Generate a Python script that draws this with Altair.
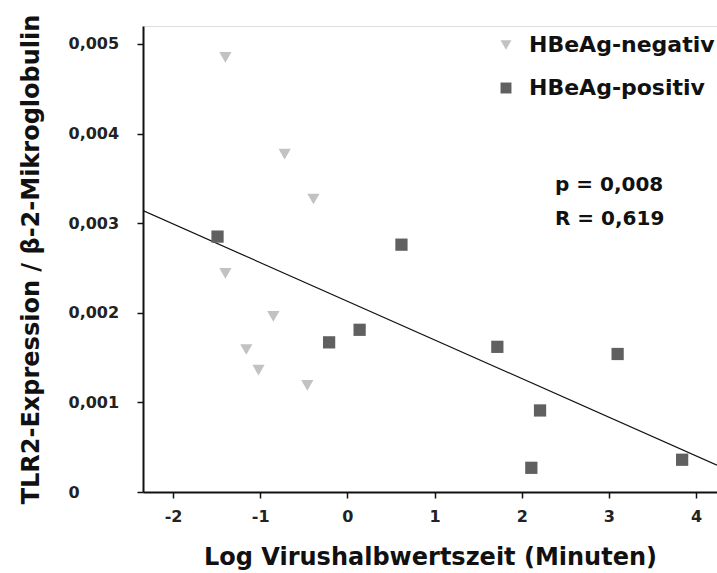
import altair as alt
import pandas as pd

# HBeAg-negative patients
neg_x = [-1.40, -0.72, -0.39, -1.40, -0.85, -1.16, -1.02, -0.46]
neg_y = [0.00485, 0.00377, 0.00327, 0.00244, 0.00196, 0.00159, 0.00136, 0.00119]

# HBeAg-positive patients
pos_x = [-1.49, 0.62, -0.21, 0.14, 1.72, 3.10, 2.21, 2.11, 3.84]
pos_y = [0.00285, 0.00276, 0.00167, 0.00181, 0.00162, 0.00154, 0.00091, 0.00027, 0.00036]

# regression line endpoints
fit_x = [-2.345, 4.24]
fit_y = [0.00314, 0.00030]

groups = ["HBeAg-negativ", "HBeAg-positiv"]
x_ticks = [-2, -1, 0, 1, 2, 3, 4]
y_ticks = [0, 0.001, 0.002, 0.003, 0.004, 0.005]
stats_lines = ["p = 0,008", "R = 0,619"]

FONT = "DejaVu Sans"

pts = pd.DataFrame(
    {
        "x": neg_x + pos_x,
        "y": neg_y + pos_y,
        "g": [groups[0]] * len(neg_x) + [groups[1]] * len(pos_x),
    }
)
fit = pd.DataFrame({"x": fit_x, "y": fit_y})

xscale = alt.Scale(domain=[-2.345, 4.24], nice=False, zero=False)
yscale = alt.Scale(domain=[0, 0.0052], nice=False)

x_axis = alt.Axis(
    values=x_ticks,
    grid=False,
    domainColor="#111111",
    domainWidth=2,
    tickColor="#111111",
    tickWidth=1.5,
    tickSize=6,
    labelFont=FONT,
    labelFontSize=16,
    labelFontWeight="bold",
    labelColor="#222222",
    labelPadding=10,
    labelExpr="'' + datum.value",
    title="Log Virushalbwertszeit (Minuten)",
    titleFont=FONT,
    titleFontSize=24,
    titleFontWeight="bold",
    titleColor="#111111",
    titleBaseline="alphabetic",
    titleY=72,
)
y_axis = alt.Axis(
    values=y_ticks,
    grid=False,
    domainColor="#111111",
    domainWidth=2,
    tickColor="#111111",
    tickWidth=1.5,
    tickSize=6,
    labelFont=FONT,
    labelFontSize=16,
    labelFontWeight="bold",
    labelColor="#222222",
    labelAlign="left",
    labelBaseline="middle",
    labelPadding=69,
    labelExpr="datum.value == 0 ? '0' : replace(format(datum.value, '.3f'), '.', ',')",
    title="TLR2-Expression / β-2-Mikroglobulin",
    titleFont=FONT,
    titleFontSize=24,
    titleFontWeight="bold",
    titleColor="#111111",
    titleX=-112,
    titleY=233,
    titleAngle=-90,
    titleBaseline="middle",
    titleAlign="center",
)

legend = alt.Legend(
    title=None,
    orient="none",
    legendX=352,
    legendY=8,
    labelFont=FONT,
    labelFontSize=22,
    labelFontWeight="bold",
    labelColor="#111111",
    labelLimit=400,
    symbolSize=120,
    symbolStrokeWidth=0,
    rowPadding=21,
    labelOffset=12,
)

line = (
    alt.Chart(fit)
    .mark_line(color="#111111", strokeWidth=1.2, clip=True)
    .encode(
        x=alt.X("x:Q", scale=xscale, axis=x_axis),
        y=alt.Y("y:Q", scale=yscale, axis=y_axis),
    )
)

points = (
    alt.Chart(pts)
    .mark_point(filled=True, opacity=1, strokeWidth=0)
    .encode(
        x=alt.X("x:Q", scale=xscale, axis=x_axis),
        y=alt.Y("y:Q", scale=yscale, axis=y_axis),
        shape=alt.Shape(
            "g:N",
            scale=alt.Scale(domain=groups, range=["triangle-down", "square"]),
            legend=legend,
        ),
        color=alt.Color(
            "g:N",
            scale=alt.Scale(domain=groups, range=["#c2c2c2", "#606060"]),
            legend=legend,
        ),
        size=alt.value(150),
    )
)


def stat_text(label, ypos):
    return (
        alt.Chart(pd.DataFrame({"t": [label]}))
        .mark_text(
            font=FONT,
            fontSize=20,
            fontWeight="bold",
            color="#111111",
            align="left",
            baseline="middle",
        )
        .encode(text="t:N", x=alt.value(412), y=alt.value(ypos))
    )


chart = (
    alt.layer(line, points, stat_text(stats_lines[0], 159), stat_text(stats_lines[1], 193))
    .properties(
        width=574,
        height=466,
        autosize=alt.AutoSizeParams(type="none"),
        padding={"left": 143, "top": 26, "right": 0, "bottom": 81},
    )
    .configure_view(stroke=None)
    .configure(background="white")
)

chart.save("out.html", embed_options={"renderer": "svg", "actions": False})
